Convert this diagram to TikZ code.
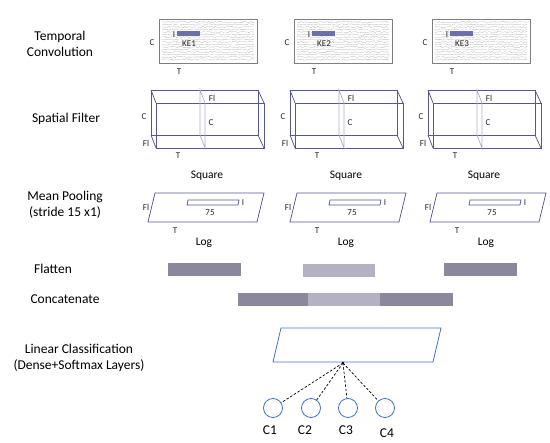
\documentclass[tikz,border=0pt]{standalone}
\usepackage{fontspec}
\setmainfont{Carlito}
\usetikzlibrary{decorations.pathmorphing}
\definecolor{boxblue}{HTML}{525893}
\definecolor{slicec}{HTML}{A9ADCB}
\definecolor{kebar}{HTML}{6B70A6}
\definecolor{darkbar}{HTML}{8A889C}
\definecolor{lightbar}{HTML}{B3B2C2}
\definecolor{cblue}{HTML}{4472C4}
\definecolor{tgray}{HTML}{7F7F7F}
\begin{document}
\begin{tikzpicture}[x=1pt,y=-1pt,
  lbl/.style={font=\fontsize{13.5}{16.5}\selectfont, align=center, inner sep=0pt},
  sm/.style={font=\fontsize{9}{10}\selectfont, inner sep=0pt, text=black!85},
  mid/.style={font=\fontsize{11.5}{12}\selectfont, inner sep=0pt},
  outl/.style={draw=boxblue, line width=0.75pt},
  noise/.style={draw=gray!55, line width=0.3pt, decorate,
     decoration={random steps, segment length=1.4pt, amplitude=0.7pt}}]
\pgfmathsetseed{7}
\useasboundingbox (0,0) rectangle (550,443);

% left labels
\node[lbl] (ltc) at (60,44) {Temporal\\Convolution};
\node[lbl] (lsf) at (66,119) {Spatial Filter};
\node[lbl] (lmp) at (65,205) {Mean Pooling\\(stride 15 x1)};
\node[lbl] (lfl) at (53,269) {Flatten};
\node[lbl] (lcc) at (65,299) {Concatenate};
\node[lbl] (llc) at (79,358) {Linear Classification\\(Dense+Softmax Layers)};

% temporal convolution
\foreach \x/\n in {159/1,294/2,432/3} {
  \foreach \yy in {22,24.5,...,61} {
    \draw[noise] (\x+3,\yy) -- (\x+95,\yy);
  }
  \draw[tgray, line width=0.8pt] (\x,19) rectangle ++(98,44);
  \fill[kebar] (\x+18,31) rectangle ++(23,5);
  \node[sm] (tk\n) at (\x+15,35) {I};
  \node[sm] (ke\n) at (\x+30,44) {KE\n};
  \node[sm] (tc\n) at (\x-7,43) {C};
  \node[sm] (tt\n) at (\x+20,72) {T};
}

% spatial filter
\foreach \x/\n in {151/1,290/2,428/3} {
  \draw[outl] (\x,90) rectangle ++(107,45);
  \draw[outl] (\x+5,103) rectangle ++(108,45);
  \draw[outl] (\x,90) -- (\x+5,103) (\x+107,90) -- (\x+113,103)
              (\x,135) -- (\x+5,148) (\x+107,135) -- (\x+113,148);
  \draw[slicec, line width=0.7pt] (\x+49,90) -- (\x+49,135) -- (\x+54,148) -- (\x+54,103) -- cycle;
  \node[sm] (sc\n) at (\x-7,117) {C};
  \node[sm] (sf\n) at (\x-5,143) {Fl};
  \node[sm] (st\n) at (\x+61,98) {Fl};
  \node[sm] (si\n) at (\x+60,123) {C};
  \node[sm] (sT\n) at (\x+27,156) {T};
  \node[mid] (sq\n) at (\x+56,176) {Square};
}

% mean pooling
\foreach \x/\n in {148/1,290/2,430/3} {
  \draw[outl] (\x+7,193) -- (\x+116,193) -- (\x+109,222) -- (\x,222) -- cycle;
  \draw[outl] (\x+40,200) -- (\x+91,200) -- (\x+90,205) -- (\x+39,205) -- cycle;
  \node[sm] (mf\n) at (\x-2,207) {Fl};
  \node[sm] (m75\n) at (\x+62,213) {75};
  \node[sm] (mi\n) at (\x+95,203) {I};
  \node[sm] (mt\n) at (\x+27,231) {T};
  \node[mid] (lg\n) at (\x+56,243) {Log};
}

% flatten
\fill[darkbar] (168,263) rectangle (241,276);
\fill[lightbar] (303,264) rectangle (375,277);
\fill[darkbar] (444,263) rectangle (517,276);

% concatenate
\fill[darkbar] (238,293) rectangle (308,306);
\fill[lightbar] (308,293) rectangle (380,306);
\fill[darkbar] (380,293) rectangle (453,306);

% linear classification
\draw[draw=cblue, line width=0.8pt] (281,328) -- (441,328) -- (433,362) -- (273,362) -- cycle;
\coordinate (hub) at (343,363);
\fill[black] (hub) circle (1.3);

\foreach \cx/\n in {273/1,311/2,348/3,385/4} {
  \node[circle, draw=cblue, line width=0.8pt, minimum size=19pt, inner sep=0pt] (c\n) at (\cx,408) {};
  \draw[dashed, line width=0.7pt, dash pattern=on 2.5pt off 1.8pt] (hub) -- (c\n);
}
\node[lbl] (lc1) at (270,430) {C1};
\node[lbl] (lc2) at (305,430) {C2};
\node[lbl] (lc3) at (346,430) {C3};
\node[lbl] (lc4) at (387,433) {C4};
\end{tikzpicture}
\end{document}
